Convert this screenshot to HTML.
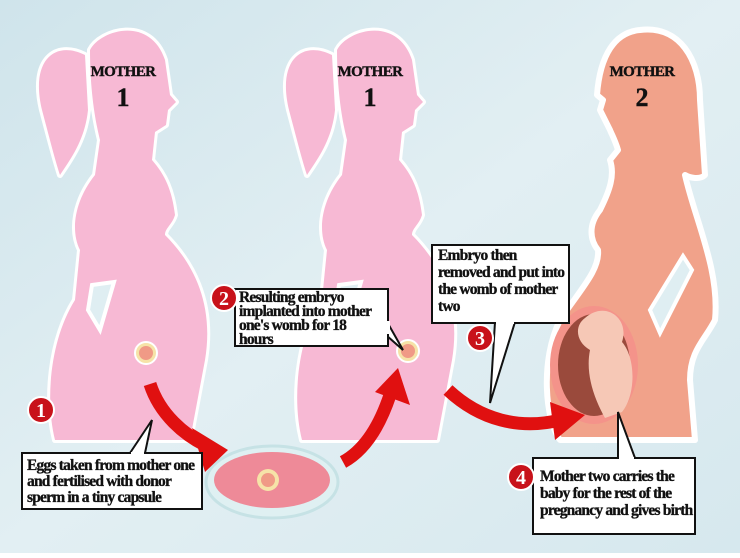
<!DOCTYPE html>
<html><head><meta charset="utf-8"><style>
html,body{margin:0;padding:0;}
body{width:740px;height:553px;overflow:hidden;font-family:"Liberation Serif",serif;}
svg text{font-family:"Liberation Serif",serif;font-weight:bold;}
.t{font-size:15.5px;letter-spacing:-0.8px;fill:#111;stroke:#111;stroke-width:0.35px;}
</style></head><body>
<svg width="740" height="553" viewBox="0 0 740 553" xmlns="http://www.w3.org/2000/svg">
<defs>
<linearGradient id="bg" x1="0" y1="0" x2="1" y2="1">
<stop offset="0" stop-color="#cfe4eb"/><stop offset="0.5" stop-color="#e2eff3"/><stop offset="1" stop-color="#d6e8ee"/>
</linearGradient>
<clipPath id="cp"><rect x="533" y="458" width="162" height="76"/></clipPath>
<g id="m1">
<path d="M85,55 C55,40 30,60 42,110 C50,140 55,160 60,175 C70,160 85,140 88,110 Z"/>
<path d="M90,50 C100,30 150,15 165,60 L170,95 L176,102 L168,110 L166,125 L155,132 L152,160 C165,175 172,190 175,215 C172,225 165,228 165,235 C190,260 215,300 205,360 L190,440 L55,440 C45,400 50,340 75,300 L80,250 C70,230 75,200 95,175 L100,140 C95,120 90,90 90,50 Z"/>
</g>
</defs>
<rect width="740" height="553" fill="url(#bg)"/>
<g fill="#f7b9d4" stroke="#fff" stroke-width="6" stroke-linejoin="round">
<use href="#m1"/>
<use href="#m1" transform="translate(247,0)"/>
<path d="M640,30 C680,25 700,60 700,100 L705,175 C700,180 690,178 685,175 C695,220 720,270 715,320 C705,340 690,350 690,380 L695,440 L560,440 C545,420 540,360 560,320 C580,290 600,270 598,250 C590,240 588,225 600,210 C610,190 615,175 610,160 L618,150 C615,140 612,135 610,130 L605,120 L600,110 L603,100 L597,95 C600,55 615,32 640,30 Z" fill="#f1a28a"/>
</g>
<g fill="#f7b9d4"><use href="#m1"/><use href="#m1" transform="translate(247,0)"/></g>
<g fill="#dfeef2" stroke="#fff" stroke-width="4">
<polygon points="92,285 114,282 100,330 88,310"/>
<polygon points="339,285 361,282 347,330 335,310"/>
<polygon points="683,256 692,270 660,333 650,310"/>
</g>
<g fill="#111" text-anchor="middle" stroke="#111" stroke-width="0.4">
<text x="123" y="76" font-size="15" letter-spacing="-0.6">MOTHER</text>
<text x="123" y="106" font-size="26">1</text>
<text x="370" y="76" font-size="15" letter-spacing="-0.6">MOTHER</text>
<text x="370" y="106" font-size="26">1</text>
<text x="642" y="76" font-size="15" letter-spacing="-0.6">MOTHER</text>
<text x="642" y="106" font-size="26">2</text>
</g>
<circle cx="146" cy="353" r="11" fill="#f6e3a8" stroke="#fff" stroke-width="2"/><circle cx="146" cy="353" r="7" fill="#f09a86"/>
<circle cx="408" cy="351" r="11" fill="#f6e3a8" stroke="#fff" stroke-width="2"/><circle cx="408" cy="351" r="7" fill="#f09a86"/>
<!-- womb -->
<ellipse cx="594" cy="365" rx="44" ry="59" fill="#f4938a"/>
<ellipse cx="594" cy="365" rx="36" ry="51" fill="#9a4a3c"/>
<path d="M585,318 C605,300 630,318 622,342 C636,358 636,395 622,412 L605,418 C595,400 585,375 590,350 C576,342 574,326 585,318 Z" fill="#f6c8b6"/>
<!-- petri dish -->
<ellipse cx="272" cy="482" rx="66" ry="36" fill="#dff0f2" stroke="#c6e2e5" stroke-width="3"/>
<ellipse cx="272" cy="480" rx="58" ry="28" fill="#ee8a98"/>
<circle cx="268" cy="480" r="11" fill="#f6e3a8"/><circle cx="268" cy="480" r="7" fill="#f09a86"/>
<g fill="none" stroke="#e01010" stroke-width="13">
<path d="M150,384 C160,415 185,435 205,445"/>
<path d="M343,462 C365,450 380,425 390,395"/>
<path d="M448,390 C480,420 520,430 560,420"/>
</g>
<g fill="#e01010">
<polygon points="192,428 228,450 205,472"/>
<polygon points="375,392 398,368 410,405"/>
<polygon points="550,402 585,415 555,440"/>
</g>
<g fill="#fff" stroke="#111" stroke-width="2">
<polygon points="130,453 152,420 145,453"/>
<rect x="22" y="453" width="180" height="56"/>
<polygon points="386,320 403,350 386,335"/>
<rect x="235" y="289" width="153" height="57"/>
<polygon points="495,322 490,403 515,322"/>
<rect x="432" y="245" width="137" height="78"/>
<polygon points="618,458 618,412 635,458"/>
<rect x="533" y="458" width="162" height="76"/>
</g>
<g fill="#fff"><rect x="131" y="452" width="13" height="3"/><rect x="387" y="321" width="3" height="13"/><rect x="496" y="321" width="18" height="3"/><rect x="619" y="457" width="15" height="3"/></g>
<text class="t"><tspan x="27" y="470">Eggs taken from mother one</tspan><tspan x="27" y="486">and fertilised with donor</tspan><tspan x="27" y="502">sperm in a tiny capsule</tspan></text>
<text class="t"><tspan x="239" y="302">Resulting embryo</tspan><tspan x="239" y="316">implanted into mother</tspan><tspan x="239" y="330">one's womb for 18</tspan><tspan x="239" y="344">hours</tspan></text>
<text class="t"><tspan x="438" y="260">Embryo then</tspan><tspan x="438" y="277">removed and put into</tspan><tspan x="438" y="294">the womb of mother</tspan><tspan x="438" y="311">two</tspan></text>
<text class="t" clip-path="url(#cp)"><tspan x="540" y="481">Mother two carries the</tspan><tspan x="540" y="498">baby for the rest of the</tspan><tspan x="540" y="515">pregnancy and gives birth</tspan></text>
<g fill="#c8121a" stroke="#fff" stroke-width="2">
<circle cx="41" cy="410" r="13"/><circle cx="224" cy="298" r="13"/><circle cx="480" cy="338" r="13"/><circle cx="521" cy="477" r="13"/>
</g>
<g fill="#fff" font-size="20" text-anchor="middle">
<text x="41" y="417">1</text><text x="224" y="305">2</text><text x="480" y="345">3</text><text x="521" y="484">4</text>
</g>
</svg>
</body></html>
